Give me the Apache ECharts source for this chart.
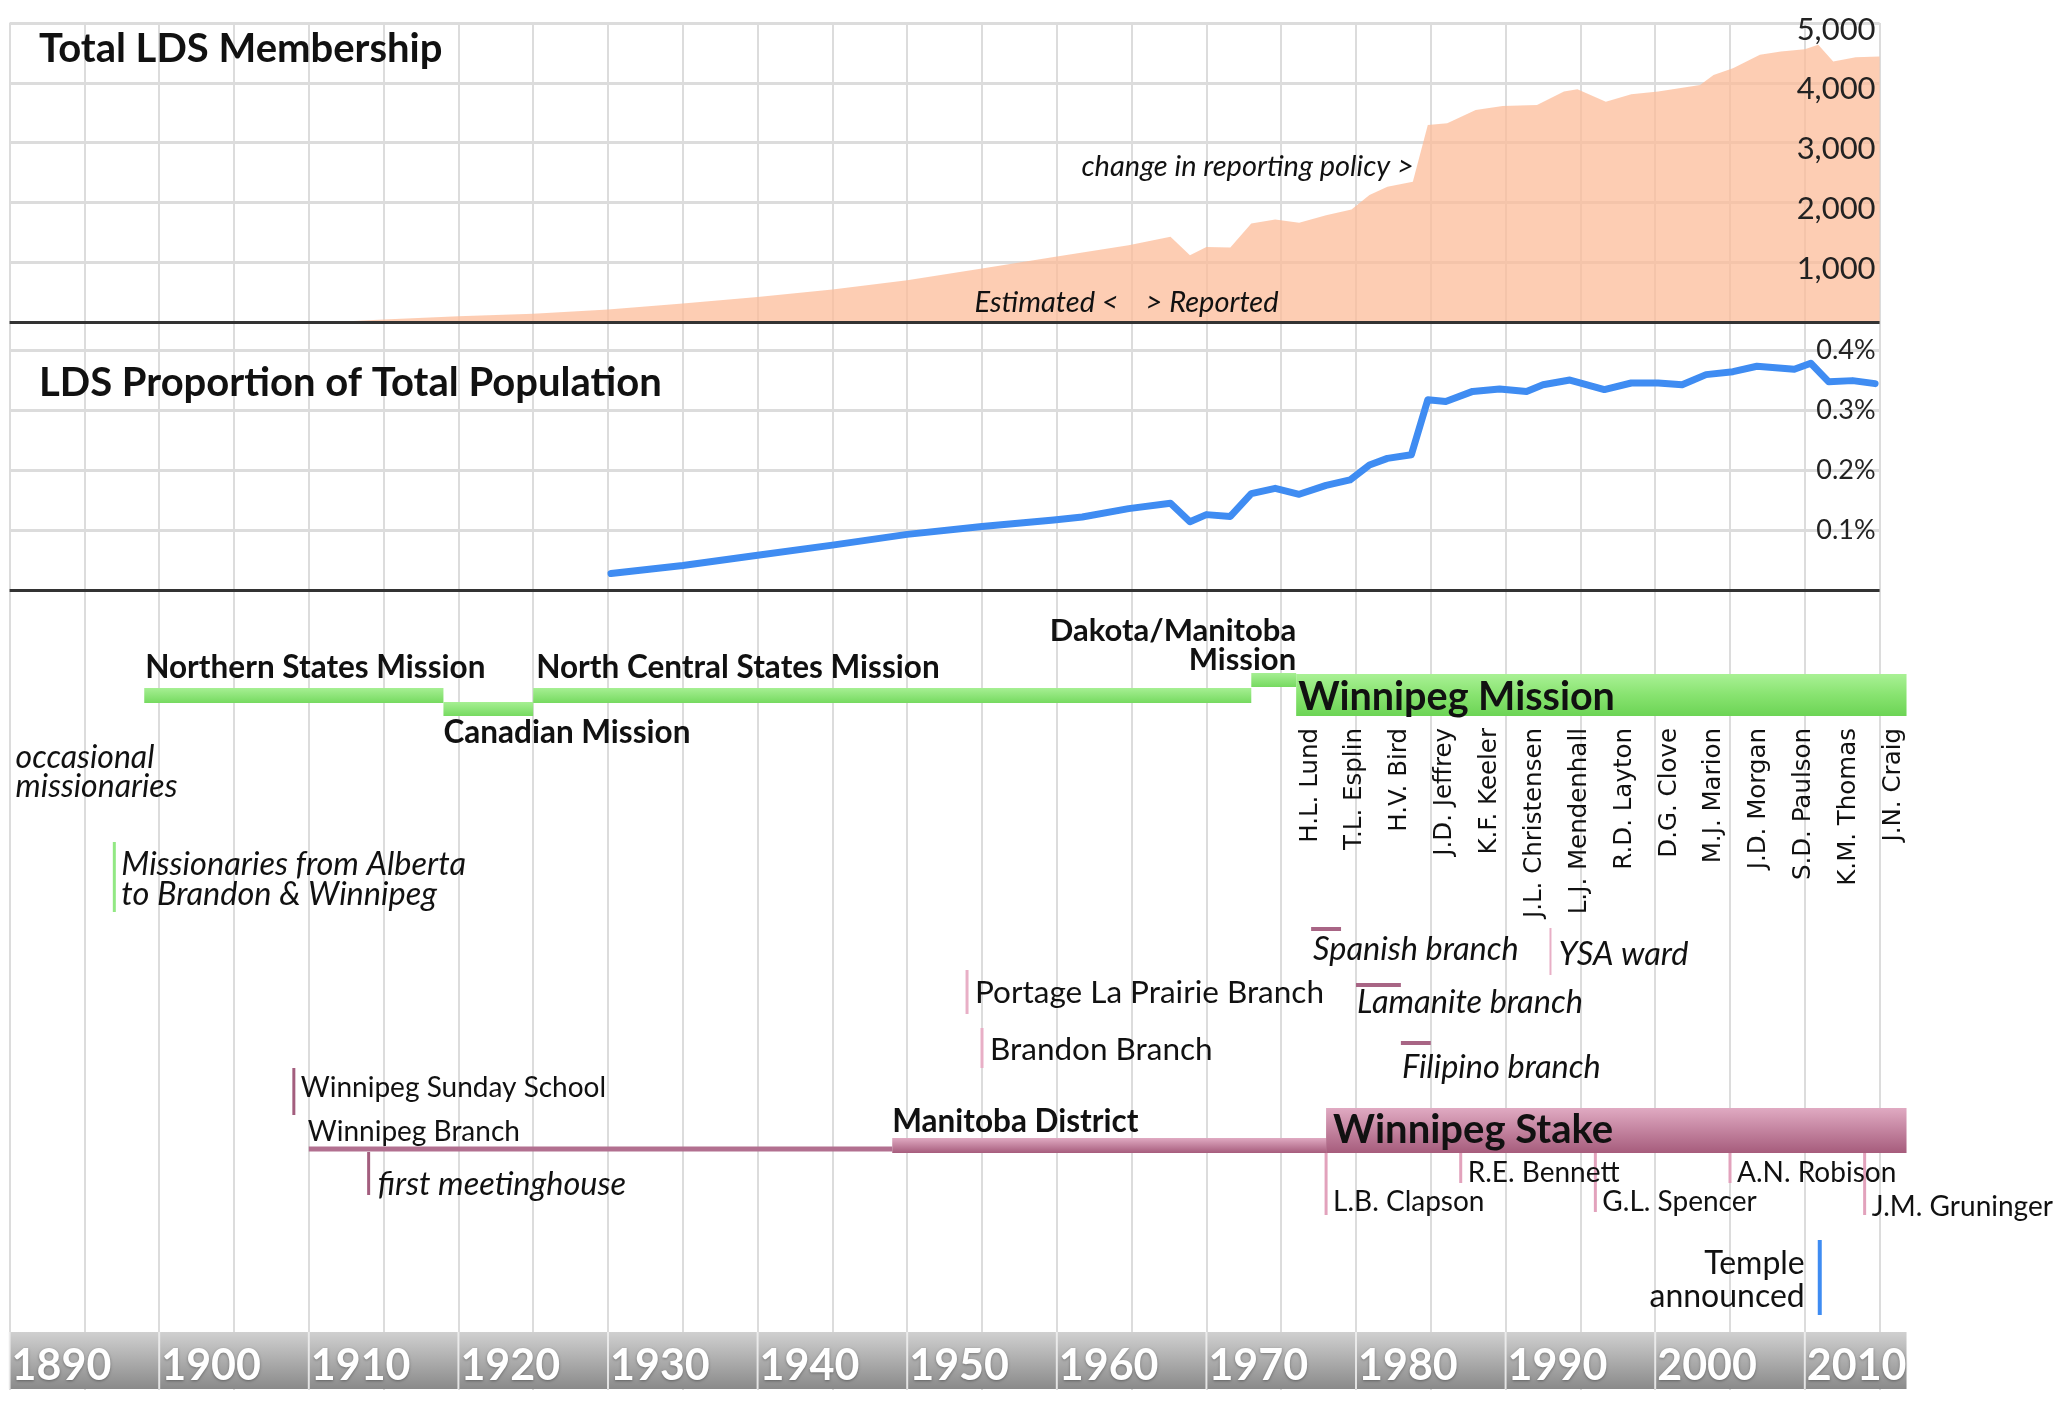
<!DOCTYPE html>
<html><head><meta charset="utf-8">
<script src="https://cdn.jsdelivr.net/npm/echarts@6/dist/echarts.min.js"></script>
<style>html,body{margin:0;padding:0;background:#fff}#c{width:2065px;height:1405px}</style>
</head><body><div id="c"></div>
<script>
// ================= DATA =================
const memberYears = [1910,1913,1915,1920,1925,1930,1935,1940,1945,1950,1955,1959.8,1964.8,1967.6,1968.9,1970,1971.6,1973,1974.6,1976.2,1978,1979.7,1980.9,1982.1,1983.8,1984.8,1986.1,1988,1989.8,1992.1,1993.9,1994.8,1996.7,1998.4,2000.2,2003,2003.9,2005.2,2007,2008.4,2010,2010.9,2011.9,2013.4,2015];
const memberCounts = [0,15,40,95,140,207,308,419,542,698,894,1085,1285,1424,1117,1256,1246,1648,1715,1658,1787,1883,2122,2261,2345,3295,3323,3546,3613,3630,3853,3893,3685,3808,3853,3965,4132,4244,4467,4523,4563,4635,4355,4429,4439];

const propYears = [1930.2,1935,1940,1945,1950,1955,1959.8,1961.7,1964.8,1967.6,1968.9,1970,1971.6,1973,1974.6,1976.2,1978,1979.6,1980.9,1982.1,1983.7,1984.8,1986,1987.8,1989.6,1991.4,1992.5,1994.3,1996.6,1998.4,2000.2,2001.8,2003.4,2005.2,2006.8,2009.3,2010.4,2011.6,2013.2,2014.7];
const propPercent = [0.0275,0.041,0.058,0.075,0.093,0.106,0.117,0.122,0.136,0.145,0.114,0.126,0.123,0.161,0.170,0.160,0.175,0.184,0.209,0.220,0.226,0.318,0.315,0.332,0.336,0.332,0.343,0.351,0.335,0.346,0.346,0.343,0.360,0.365,0.374,0.369,0.379,0.348,0.350,0.345];

const yearTicks = [1890,1900,1910,1920,1930,1940,1950,1960,1970,1980,1990,2000,2010];
const PRESENT = 2016.8;

const annoTexts = ['change in reporting policy >','Estimated <','> Reported'];
const annoYears = [1984.8,1965,1965];
const annoValues = [2590,330,330];

const missionNames = ['Northern States Mission','Canadian Mission','North Central States Mission','Dakota/Manitoba\nMission','Winnipeg Mission'];
const missionStart = [1899,1919,1925,1973,1976];
const missionEnd = [1919,1925,1973,1976,PRESENT];

const missionPresidents = ['H.L. Lund','T.L. Esplin','H.V. Bird','J.D. Jeffrey','K.F. Keeler','J.L. Christensen','L.J. Mendenhall','R.D. Layton','D.G. Clove','M.J. Marion','J.D. Morgan','S.D. Paulson','K.M. Thomas','J.N. Craig'];
const missionPresidentYears = [1976,1979,1982,1985,1988,1991,1994,1997,2000,2003,2006,2009,2012,2015];

const unitNames = ['Winnipeg Branch','Manitoba District','Winnipeg Stake'];
const unitStart = [1910,1949,1978];
const unitEnd = [1949,1978,PRESENT];

const stakePresidents = ['L.B. Clapson','R.E. Bennett','G.L. Spencer','A.N. Robison','J.M. Gruninger'];
const stakePresidentYears = [1978,1987,1996,2005,2014];

const branchNames = ['Spanish branch','Lamanite branch','Filipino branch'];
const branchStart = [1977,1980,1983];
const branchEnd = [1979,1983,1985];

const eventNames = ['Missionaries from Alberta\nto Brandon & Winnipeg','Winnipeg Sunday School','first meetinghouse','Portage La Prairie Branch','Brandon Branch','YSA ward','Temple\nannounced'];
const eventYears = [1897,1909,1914,1954,1955,1993,2011];

const noteText = 'occasional\nmissionaries';
const noteYear = 1890;

// ================= LAYOUT / STYLE =================
const FONT = 'Lato';
const INK = '#111';
const G = echarts.graphic;
const greenThin = () => new G.LinearGradient(0,0,0,1,[{offset:0,color:'#A6EF93'},{offset:1,color:'#76DA60'}]);
const greenBig = () => new G.LinearGradient(0,0,0,1,[{offset:0,color:'#A9F195'},{offset:0.5,color:'#88E370'},{offset:1,color:'#6CD455'}]);
const pinkBar = () => new G.LinearGradient(0,0,0,1,[{offset:0,color:'#E0AAC2'},{offset:1,color:'#A65C7C'}]);
const grayBar = () => new G.LinearGradient(0,0,0,1,[{offset:0,color:'#D0D0D0'},{offset:1,color:'#8A8A8A'}]);

// lanes: vertical positions on the timeline axis (0 = top of timeline panel)
const missionLayout = [
  {bar:[98,113], fill:greenThin, lane:78, dx:1, align:'left', font:'bold 31.5px '+FONT},
  {bar:[112,126], fill:greenThin, lane:143, dx:0, align:'left', font:'bold 31.5px '+FONT},
  {bar:[98,113], fill:greenThin, lane:78, dx:3, align:'left', font:'bold 31.5px '+FONT},
  {bar:[83,97], fill:greenThin, lane:55, dx:0, align:'right', anchorEnd:true, font:'bold 31px '+FONT, lh:29},
  {bar:[84,126], fill:greenBig, lane:107, dx:2, align:'left', font:'bold 39.5px '+FONT}
];
const presidentLayout = {lane:138, dx:14, font:'24.5px "DejaVu Sans"'};
const unitLayout = [
  {bar:[556.5,561.5], fill:()=> '#B27090', lane:542, dx:-1, font:'28px '+FONT},
  {bar:[548,563], fill:pinkBar, lane:532, dx:0, font:'bold 31.5px '+FONT},
  {bar:[518,563], fill:pinkBar, lane:540, dx:7, font:'bold 40px '+FONT}
];
const stakePresLayout = {top:563, ends:[625,593,622,593,625], lanes:[612,583,612,583,617], dx:7, color:'#E2A2BC', font:'28px '+FONT};
const branchLayout = [
  {bar:[337,341], lane:360, dx:2},
  {bar:[393,397], lane:413, dx:1},
  {bar:[451,455], lane:478, dx:1}
];
const branchStyle = {color:'#A86585', font:'italic 32.5px '+FONT};
const eventLayout = [
  {line:[252,322], color:'#92E883', width:3, lane:290, dx:7, align:'left', font:'italic 32.5px '+FONT, lh:30},
  {line:[478,525], color:'#A35E7E', width:3, lane:498, dx:7, align:'left', font:'28px '+FONT},
  {line:[562,605], color:'#A35E7E', width:3, lane:595, dx:9, align:'left', font:'italic 32.5px '+FONT},
  {line:[380,424], color:'#E8AFC6', width:3, lane:403, dx:8, align:'left', font:'31.5px '+FONT},
  {line:[438,478], color:'#E8AFC6', width:3, lane:460, dx:8, align:'left', font:'31.5px '+FONT},
  {line:[338,385], color:'#E8AFC6', width:2, lane:365, dx:8, align:'left', font:'italic 32.5px '+FONT},
  {line:[650,725], color:'#3F8CF2', width:4, lane:690, dx:-15, align:'right', font:'32px '+FONT, lh:33}
];
const noteLayout = {lane:182, dx:6, font:'italic 32px '+FONT, lh:29};
const axisBarLayout = {band:[742,799], lane:776, dx:2, font:'bold 43px '+FONT};
const annoLayout = [{align:'right', dx:-14}, {align:'right', dx:-13}, {align:'left', dx:14}];

// ================= BUILD TIMELINE MARKS =================
const marks = [];
const bar = (x0,x1,y0,y1,fill,z2) => marks.push({kind:'bar',x0,x1,y0,y1,fill,z2:z2||0});
const vline = (x,y0,y1,color,width) => marks.push({kind:'vline',x0:x,y0,y1,color,width});
const txt = (x,y,text,o) => marks.push(Object.assign({kind:'text',x0:x,y0:y,text},o));

missionNames.forEach((n,i)=>{
  const L = missionLayout[i];
  bar(missionStart[i], missionEnd[i], L.bar[0], L.bar[1], L.fill());
  txt(L.anchorEnd ? missionEnd[i] : missionStart[i], L.lane, n, {dx:L.dx, align:L.align, font:L.font, lh:L.lh});
});
missionPresidents.forEach((n,i)=>{
  txt(missionPresidentYears[i], presidentLayout.lane, n, {dx:presidentLayout.dx, align:'right', font:presidentLayout.font, rot:Math.PI/2});
});
unitNames.forEach((n,i)=>{
  const L = unitLayout[i];
  bar(unitStart[i], unitEnd[i], L.bar[0], L.bar[1], L.fill());
  txt(unitStart[i], L.lane, n, {dx:L.dx, align:'left', font:L.font});
});
stakePresidents.forEach((n,i)=>{
  vline(stakePresidentYears[i], stakePresLayout.top, stakePresLayout.ends[i], stakePresLayout.color, 3);
  txt(stakePresidentYears[i], stakePresLayout.lanes[i], n, {dx:stakePresLayout.dx, align:'left', font:stakePresLayout.font});
});
branchNames.forEach((n,i)=>{
  const L = branchLayout[i];
  bar(branchStart[i], branchEnd[i], L.bar[0], L.bar[1], branchStyle.color);
  txt(branchStart[i], L.lane, n, {dx:L.dx, align:'left', font:branchStyle.font});
});
eventNames.forEach((n,i)=>{
  const L = eventLayout[i];
  vline(eventYears[i], L.line[0], L.line[1], L.color, L.width);
  txt(eventYears[i], L.lane, n, {dx:L.dx, align:L.align, font:L.font, lh:L.lh});
});
txt(noteYear, noteLayout.lane, noteText, {dx:noteLayout.dx, align:'left', font:noteLayout.font, lh:noteLayout.lh});
yearTicks.forEach((t,i)=>{
  const end = i < yearTicks.length-1 ? yearTicks[i+1] : PRESENT;
  bar(t, end, axisBarLayout.band[0], axisBarLayout.band[1], grayBar());
  vline(t, axisBarLayout.band[0], axisBarLayout.band[1], 'rgba(240,240,240,0.85)', 2);
  txt(t, axisBarLayout.lane, String(t), {dx:axisBarLayout.dx, align:'left', font:axisBarLayout.font, color:'#fff', shadow:true});
});

function renderMark(params, api){
  const m = marks[params.dataIndex];
  if (m.kind === 'bar'){
    const a = api.coord([m.x0, m.y0]), b = api.coord([m.x1, m.y1]);
    return {type:'rect', z2:m.z2, shape:{x:a[0], y:a[1], width:b[0]-a[0], height:b[1]-a[1]}, style:{fill:m.fill}};
  }
  if (m.kind === 'vline'){
    const a = api.coord([m.x0, m.y0]), b = api.coord([m.x0, m.y1]);
    return {type:'line', z2:2, shape:{x1:a[0], y1:a[1], x2:b[0], y2:b[1]}, style:{stroke:m.color, lineWidth:m.width}};
  }
  const p = api.coord([m.x0, m.y0]);
  const st = {text:m.text, fill:m.color||INK, font:m.font, align:m.align, verticalAlign:'middle', textAlign:m.align, textVerticalAlign:'middle'};
  if (m.lh) st.lineHeight = m.lh;
  if (m.shadow){ st.textShadowColor='rgba(0,0,0,0.35)'; st.textShadowBlur=3; st.textShadowOffsetY=1; }
  if (m.rot) return {type:'text', z2:10, x:p[0]+m.dx, y:p[1], rotation:m.rot, style:st};
  return {type:'text', z2:10, x:p[0]+(m.dx||0), y:p[1], style:st};
}

function renderAnno(params, api){
  const i = params.dataIndex, L = annoLayout[i];
  const p = api.coord([annoYears[i], annoValues[i]]);
  return {type:'text', x:p[0]+L.dx, y:p[1], z2:10, style:{text:annoTexts[i], fill:INK, font:'italic 29px '+FONT, align:L.align, verticalAlign:'middle', textAlign:L.align, textVerticalAlign:'middle'}};
}

// ================= CHART =================
const chart = echarts.init(document.getElementById('c'), null, {renderer:'canvas'});
const GL = 9.6, GW = 1870;
const vGrid = {show:true, lineStyle:{color:'#DCDCDC', width:2}};
const hGrid = {show:true, lineStyle:{color:'#DCDCDC', width:3}};
const xBase = (gi) => ({type:'value', gridIndex:gi, min:1890, max:2015, interval:5, axisLine:{show:false}, axisTick:{show:false}, axisLabel:{show:false}, splitLine:vGrid});

chart.setOption({
  animation:false,
  backgroundColor:'#fff',
  title:[
    {text:'Total LDS Membership', left:39, top:29, padding:0, textStyle:{fontFamily:FONT, fontWeight:'bold', fontSize:40, lineHeight:40, color:INK}},
    {text:'LDS Proportion of Total Population', left:39, top:363, padding:0, textStyle:{fontFamily:FONT, fontWeight:'bold', fontSize:40, lineHeight:40, color:INK}}
  ],
  grid:[
    {left:GL, top:23, width:GW, height:299},
    {left:GL, top:322, width:GW, height:268},
    {left:GL, top:590, width:GW, height:800}
  ],
  xAxis:[xBase(0), xBase(1), xBase(2)],
  yAxis:[
    {type:'value', gridIndex:0, position:'left', min:0, max:5000, interval:1000, axisLine:{show:false}, axisTick:{show:false}, axisLabel:{show:false}, splitLine:hGrid},
    {type:'value', gridIndex:0, position:'right', z:6, min:0, max:5000, interval:1000, axisLine:{show:false}, axisTick:{show:false}, splitLine:{show:false},
      axisLabel:{inside:true, margin:4, verticalAlign:'top', lineHeight:13, color:'#222', fontFamily:FONT, fontSize:31, formatter:v=> v===0 ? '' : v.toLocaleString('en-US')}},
    {type:'value', gridIndex:1, position:'left', min:0, max:0.448, interval:0.1, axisLine:{show:false}, axisTick:{show:false}, axisLabel:{show:false}, splitLine:hGrid},
    {type:'value', gridIndex:1, position:'right', z:6, min:0, max:0.448, interval:0.1, axisLine:{show:false}, axisTick:{show:false}, splitLine:{show:false},
      axisLabel:{inside:true, margin:4, verticalAlign:'middle', color:'#222', fontFamily:FONT, fontSize:27, formatter:v=>{const k=Math.round(v*10); return (k>0 && Math.abs(v*10-k)<1e-6) ? (k/10).toFixed(1)+'%' : '';}}},
    {type:'value', gridIndex:2, min:0, max:800, inverse:true, show:false, splitLine:{show:false}}
  ],
  series:[
    {type:'line', name:'Total LDS Membership', xAxisIndex:0, yAxisIndex:0, showSymbol:false, symbol:'none',
      data: memberYears.map((y,i)=>[y, memberCounts[i]]),
      lineStyle:{width:0, color:'rgba(252,190,155,0.75)'}, itemStyle:{color:'rgba(252,190,155,0.75)'},
      areaStyle:{color:'rgba(252,188,152,0.74)', opacity:1},
      markLine:{silent:true, symbol:'none', label:{show:false}, lineStyle:{color:'#333', width:3, type:'solid'}, data:[{yAxis:0}]}
    },
    {type:'line', name:'LDS Proportion', xAxisIndex:1, yAxisIndex:2, showSymbol:false, symbol:'none',
      data: propYears.map((y,i)=>[y, propPercent[i]]),
      lineStyle:{width:7, color:'#3F8CF2', cap:'round', join:'round'}, itemStyle:{color:'#3F8CF2'},
      markLine:{silent:true, symbol:'none', label:{show:false}, lineStyle:{color:'#333', width:3, type:'solid'}, data:[{yAxis:0}]}
    },
    {type:'custom', name:'annotations', z:8, xAxisIndex:0, yAxisIndex:0, clip:false, silent:true,
      data: annoYears.map((y,i)=>[y, annoValues[i]]), renderItem: renderAnno},
    {type:'custom', name:'timeline', xAxisIndex:2, yAxisIndex:4, clip:false, silent:true,
      data: marks.map(m=>[m.x0, m.y0]), renderItem: renderMark}
  ]
});
</script>
</body></html>
